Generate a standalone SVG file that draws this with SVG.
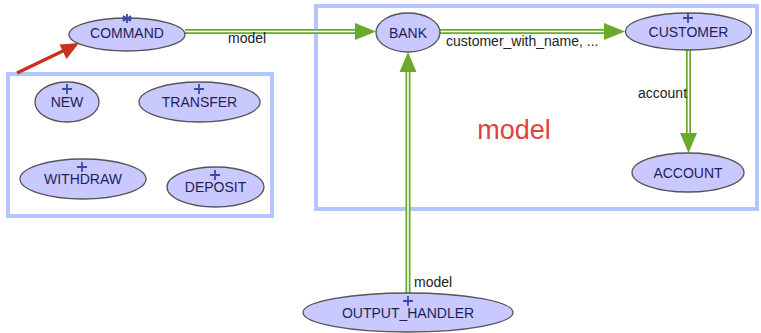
<svg xmlns="http://www.w3.org/2000/svg" width="761" height="333" viewBox="0 0 761 333">
<defs>
<style>
.cl{fill:none;stroke:#b3c6ff;stroke-width:4}
.nd{fill:#c9c9ff;stroke:#555;stroke-width:1.3}
.tx{font-family:"Liberation Sans",Arial,sans-serif;font-size:14px;fill:#1e1e5a;text-anchor:middle}
.pl{stroke:#3a4aa8;stroke-width:1.8;fill:none}
.eo{fill:none;stroke:#6aa92a;stroke-width:5}
.ei{fill:none;stroke:#fff;stroke-width:1.6}
.ah{fill:#6aa92a}
.lb{font-family:"Liberation Sans",Arial,sans-serif;font-size:14px;fill:#222}
</style>
</defs>
<rect width="761" height="333" fill="#fff"/>
<rect class="cl" x="316" y="6" width="441" height="203"/>
<rect class="cl" x="8" y="74" width="264" height="142"/>
<text x="514" y="139" font-family="Liberation Sans,Arial,sans-serif" font-size="27" fill="#e0413c" text-anchor="middle">model</text>
<g id="connectors">
<path class="eo" d="M185,31.5H358"/><path class="ei" d="M185,31.5H358"/>
<polygon class="ah" points="376,31.5 355,23 355,40"/>
<path class="eo" d="M440,31.5H607"/><path class="ei" d="M440,31.5H607"/>
<polygon class="ah" points="625,31.5 604,23 604,40"/>
<path class="eo" d="M688.5,50V136"/><path class="ei" d="M688.5,50V136"/>
<polygon class="ah" points="688.5,153 680,133 697,133"/>
<path class="eo" d="M408,293V70"/><path class="ei" d="M408,293V70"/>
<polygon class="ah" points="408,52 399.5,72 416.5,72"/>
<path d="M17,73L65,50" stroke="#c8321c" stroke-width="3.5" fill="none"/>
<polygon points="79,43 66.5,59 59.5,44.5" fill="#c8321c"/>
<text class="lb" x="228" y="43">model</text>
<text class="lb" x="446" y="46">customer_with_name, ...</text>
<text class="lb" x="638" y="98">account</text>
<text class="lb" x="414" y="287">model</text>
</g>
<g id="COMMAND"><ellipse class="nd" cx="127" cy="34.5" rx="58" ry="16.5"/><text class="tx" x="127" y="38">COMMAND</text><path class="pl" d="M127,14V23M123,16L131,21M131,16L123,21M122.5,18.5H131.5" stroke-width="1.2"/></g>
<g id="BANK"><ellipse class="nd" cx="408" cy="32.5" rx="32" ry="19.5"/><text class="tx" x="408" y="37.5">BANK</text></g>
<g id="CUSTOMER"><ellipse class="nd" cx="688.5" cy="31.5" rx="63" ry="18.5"/><text class="tx" x="688.5" y="37">CUSTOMER</text><path class="pl" d="M688,13V23M683,18H693"/></g>
<g id="ACCOUNT"><ellipse class="nd" cx="688" cy="172.5" rx="56" ry="19.5"/><text class="tx" x="688" y="177.5">ACCOUNT</text></g>
<g id="OUTPUT_HANDLER"><ellipse class="nd" cx="408" cy="312.5" rx="105" ry="19.5"/><text class="tx" x="408" y="318">OUTPUT_HANDLER</text><path class="pl" d="M408,296V306M403,301H413"/></g>
<g id="NEW"><ellipse class="nd" cx="67" cy="102" rx="32" ry="20"/><text class="tx" x="67" y="107">NEW</text><path class="pl" d="M67,84V94M62,89H72"/></g>
<g id="TRANSFER"><ellipse class="nd" cx="199.5" cy="102" rx="60.5" ry="20"/><text class="tx" x="199.5" y="107">TRANSFER</text><path class="pl" d="M199,84V94M194,89H204"/></g>
<g id="WITHDRAW"><ellipse class="nd" cx="83" cy="179" rx="63" ry="20"/><text class="tx" x="83" y="184">WITHDRAW</text><path class="pl" d="M82,162V172M77,167H87"/></g>
<g id="DEPOSIT"><ellipse class="nd" cx="215.5" cy="187" rx="48.5" ry="20"/><text class="tx" x="215.5" y="192">DEPOSIT</text><path class="pl" d="M215,170V180M210,175H220"/></g>
</svg>
